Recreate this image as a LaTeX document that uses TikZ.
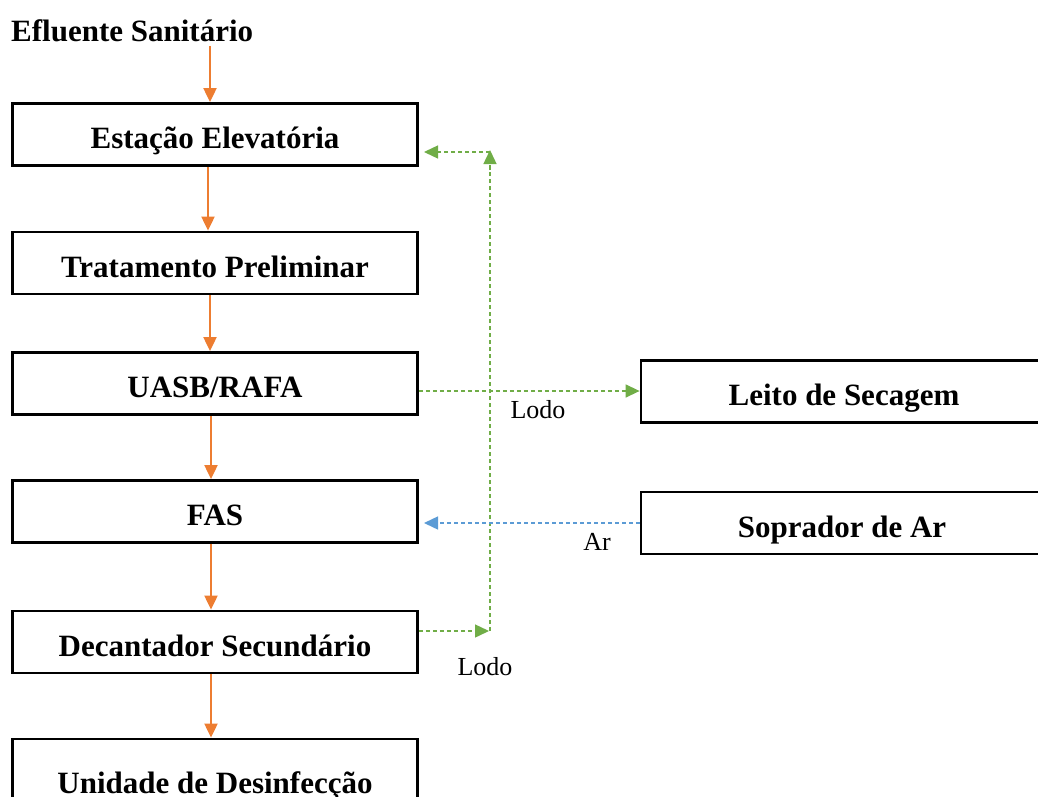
\documentclass[tikz,border=0pt]{standalone}
\usepackage{fontspec}
\setmainfont{Liberation Serif}
\usetikzlibrary{arrows.meta}
\definecolor{orng}{RGB}{237,125,49}
\definecolor{grn}{RGB}{112,173,71}
\definecolor{blu}{RGB}{91,155,213}
\begin{document}
\begin{tikzpicture}[x=1pt,y=-1pt,
  box/.style={draw=black,line width=2.8pt,minimum height=62pt,inner sep=0pt,text height=30pt,text depth=2pt,font=\fontsize{31}{34}\selectfont\bfseries},
  lbox/.style={box,minimum width=405pt},
  rbox/.style={box,minimum width=410pt},
  flow/.style={draw=orng,line width=2pt,-{Triangle[length=14pt,width=13pt]}},
  lodo/.style={draw=grn,line width=1.4pt,dash pattern=on 4pt off 3pt,-{Triangle[length=14pt,width=13pt]}},
  ar/.style={draw=blu,line width=1.4pt,dash pattern=on 4pt off 3pt,-{Triangle[length=14pt,width=13pt]}},
  lbl/.style={font=\fontsize{26}{28}\selectfont}]
\useasboundingbox (0,0) rectangle (1038,797);
\clip (0,0) rectangle (1038,797);
\node[font=\fontsize{31}{34}\selectfont\bfseries,anchor=west,inner sep=0pt] (ef) at (11,31) {Efluente Sanitário};
\node[lbox] (b1) at (215,134.5) {Estação Elevatória};
\node[lbox] (b2) at (215,263) {Tratamento Preliminar};
\node[lbox] (b3) at (215,383.5) {UASB/RAFA};
\node[lbox] (b4) at (215,511.5) {FAS};
\node[lbox] (b5) at (215,642) {Decantador Secundário};
\node[lbox,minimum height=70pt,text height=40pt,text depth=2pt] (b6) at (215,774) {Unidade de Desinfecção};
\node[rbox] (r1) at (846,391.5) {\hspace*{-4pt}Leito de Secagem};
\node[rbox] (r2) at (846,523) {\hspace*{-8pt}Soprador de Ar};
\coordinate (t0) at (210,46);
\coordinate (x1) at (208,0);
\coordinate (x2) at (210,0);
\coordinate (x3) at (211,0);
\draw[flow] (t0) -- (b1.north -| t0);
\draw[flow] (b1.south -| x1) -- (b2.north -| x1);
\draw[flow] (b2.south -| x2) -- (b3.north -| x2);
\draw[flow] (b3.south -| x3) -- (b4.north -| x3);
\draw[flow] (b4.south -| x3) -- (b5.north -| x3);
\draw[flow] (b5.south -| x3) -- (b6.north -| x3);
\coordinate (g1) at (490,631);
\coordinate (g1a) at (489,631);
\coordinate (g2) at (490,150);
\coordinate (g2a) at (490,164);
\coordinate (g2b) at (490,170);
\coordinate (g3) at (424,152);
\coordinate (g2c) at (490,152);
\coordinate (y3) at (0,391);
\coordinate (y4) at (0,523);
\coordinate (a4) at (424,523);
\draw[lodo] (b5.east |- g1) -- (g1a);
\draw[grn,line width=1.4pt,dash pattern=on 4pt off 3pt] (g1) -- (g2a);
\draw[lodo] (g2b) -- (g2);
\draw[lodo] (g2c) -- (g3);
\draw[lodo] (b3.east |- y3) -- (r1.west |- y3);
\draw[ar] (r2.west |- y4) -- (a4);
\node[lbl] (l1) at (538,410) {Lodo};
\node[lbl] (l2) at (485,667) {Lodo};
\node[lbl] (l3) at (597,542) {Ar};
\end{tikzpicture}
\end{document}
